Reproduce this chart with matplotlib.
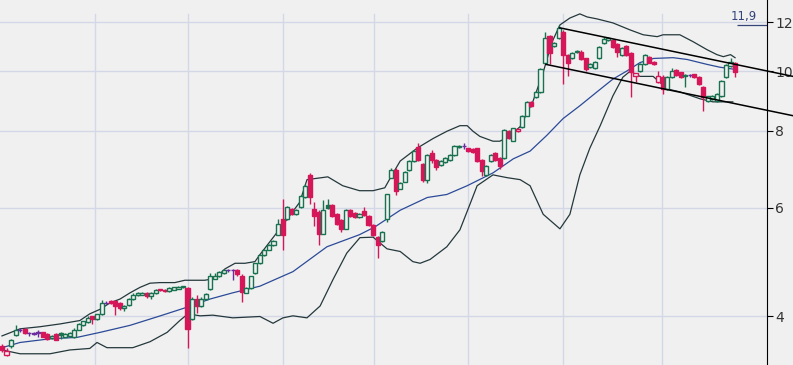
import matplotlib
matplotlib.use("Agg")
import matplotlib.pyplot as plt

# daily candles (price units)
opens = [3.58, 3.47, 3.58, 3.73, 3.81, 3.82, 3.76, 3.75, 3.77, 3.77,
         3.75, 3.69, 3.75, 3.76, 3.71, 3.72, 3.70, 3.81, 3.87, 3.92,
         4.00, 3.96, 4.03, 4.21, 4.24, 4.24, 4.21, 4.13, 4.18, 4.27,
         4.33, 4.34, 4.37, 4.32, 4.36, 4.43, 4.42, 4.40, 4.42, 4.44,
         4.46, 4.45, 3.96, 4.27, 4.16, 4.27, 4.43, 4.61, 4.65, 4.70,
         4.76, 4.76, 4.76, 4.66, 4.37, 4.45, 4.70, 4.88, 5.03, 5.13,
         5.22, 5.43, 5.75, 5.75, 5.97, 5.86, 6.02, 6.24, 6.79, 5.97,
         5.91, 5.45, 6.06, 6.06, 5.86, 5.73, 5.55, 5.95, 5.88, 5.80,
         5.93, 5.82, 5.63, 5.39, 5.31, 5.75, 6.72, 6.92, 6.45, 6.62,
         6.92, 7.15, 7.53, 7.07, 6.67, 7.37, 7.18, 7.05, 7.12, 7.18,
         7.31, 7.53, 7.56, 7.50, 7.47, 7.50, 7.18, 6.79, 7.15, 7.37,
         7.23, 7.23, 7.99, 7.72, 7.99, 8.13, 8.47, 8.92, 9.09, 9.26,
         10.33, 11.42, 11.00, 11.34, 11.59, 10.64, 10.49, 10.76, 10.76, 10.49,
         10.15, 10.11, 10.49, 11.13, 11.25, 11.25, 11.08, 10.64, 11.00, 10.72,
         9.81, 10.00, 10.26, 10.56, 10.37, 9.60, 9.78, 9.36, 9.78, 10.03,
         9.96, 9.83, 9.85, 9.88, 9.78, 9.43, 8.95, 9.02, 8.95, 9.12,
         9.78, 10.18, 10.33]
highs = [3.61, 3.56, 3.68, 3.88, 3.83, 3.83, 3.78, 3.77, 3.80, 3.78,
         3.76, 3.73, 3.76, 3.77, 3.76, 3.77, 3.83, 3.90, 3.94, 4.00,
         4.01, 4.04, 4.25, 4.24, 4.25, 4.25, 4.22, 4.17, 4.28, 4.36,
         4.38, 4.38, 4.38, 4.38, 4.43, 4.44, 4.43, 4.46, 4.47, 4.48,
         4.49, 4.47, 4.30, 4.33, 4.30, 4.37, 4.71, 4.70, 4.74, 4.77,
         4.78, 4.78, 4.77, 4.68, 4.46, 4.66, 4.89, 5.04, 5.14, 5.24,
         5.32, 5.76, 6.20, 6.04, 5.99, 5.97, 6.30, 6.55, 6.84, 6.13,
         5.95, 6.17, 6.20, 6.08, 5.88, 5.75, 5.97, 5.97, 5.90, 5.88,
         6.02, 5.84, 5.65, 5.41, 5.51, 6.33, 6.97, 6.97, 6.62, 6.89,
         7.18, 7.45, 7.64, 7.10, 7.34, 7.45, 7.20, 7.18, 7.25, 7.34,
         7.60, 7.60, 7.64, 7.52, 7.50, 7.52, 7.20, 7.05, 7.34, 7.40,
         7.25, 8.05, 8.02, 8.10, 8.08, 8.50, 8.95, 8.95, 9.30, 10.11,
         11.59, 11.46, 11.17, 11.89, 11.65, 10.66, 10.76, 10.84, 10.84, 10.52,
         10.30, 10.40, 11.00, 11.38, 11.38, 11.30, 11.10, 10.96, 11.04, 10.76,
         9.94, 10.30, 10.68, 10.60, 10.40, 10.00, 9.85, 9.81, 10.11, 10.07,
         9.99, 9.90, 9.90, 9.90, 9.81, 9.46, 9.12, 9.15, 9.22, 9.67,
         10.26, 10.52, 10.37]
lows = [3.50, 3.45, 3.56, 3.72, 3.78, 3.74, 3.72, 3.73, 3.70, 3.70,
        3.67, 3.68, 3.66, 3.68, 3.70, 3.71, 3.69, 3.80, 3.86, 3.91,
        3.89, 3.95, 4.02, 4.19, 4.19, 4.02, 4.10, 4.08, 4.16, 4.26,
        4.32, 4.33, 4.28, 4.27, 4.35, 4.40, 4.39, 4.39, 4.41, 4.43,
        4.45, 3.56, 3.95, 4.06, 4.15, 4.26, 4.42, 4.60, 4.64, 4.69,
        4.73, 4.58, 4.66, 4.22, 4.36, 4.44, 4.69, 4.87, 5.02, 5.12,
        5.21, 5.42, 5.13, 5.73, 5.84, 5.85, 6.00, 6.22, 6.08, 5.60,
        5.23, 5.44, 5.97, 5.80, 5.63, 5.49, 5.54, 5.80, 5.79, 5.79,
        5.82, 5.61, 5.41, 4.98, 5.29, 5.69, 6.70, 6.29, 6.43, 6.60,
        6.90, 7.13, 7.15, 6.62, 6.59, 7.10, 6.92, 7.02, 7.10, 7.15,
        7.28, 7.50, 7.48, 7.40, 7.38, 7.12, 6.77, 6.77, 7.12, 7.15,
        6.95, 7.20, 7.75, 7.70, 7.97, 8.10, 8.45, 8.76, 9.05, 9.22,
        10.30, 10.26, 10.96, 11.30, 9.53, 9.81, 10.45, 10.72, 10.42, 10.00,
        10.11, 10.07, 10.45, 11.08, 11.20, 10.92, 10.56, 10.60, 10.60, 9.09,
        9.60, 9.96, 10.22, 10.30, 10.22, 9.57, 9.19, 9.33, 9.74, 9.81,
        9.74, 9.43, 9.80, 9.74, 9.50, 8.63, 8.92, 8.99, 8.92, 9.09,
        9.74, 10.15, 9.78]
closes = [3.53, 3.51, 3.66, 3.80, 3.80, 3.76, 3.76, 3.76, 3.76, 3.71,
          3.68, 3.72, 3.67, 3.73, 3.75, 3.76, 3.81, 3.89, 3.93, 3.98,
          3.97, 4.03, 4.21, 4.21, 4.20, 4.16, 4.13, 4.16, 4.27, 4.33,
          4.36, 4.37, 4.32, 4.37, 4.42, 4.41, 4.40, 4.45, 4.46, 4.47,
          4.48, 3.82, 4.27, 4.16, 4.27, 4.35, 4.65, 4.66, 4.73, 4.75,
          4.75, 4.75, 4.68, 4.38, 4.45, 4.65, 4.88, 5.03, 5.13, 5.23,
          5.31, 5.65, 5.43, 6.02, 5.86, 5.95, 6.28, 6.52, 6.24, 5.82,
          5.45, 5.95, 5.99, 5.82, 5.65, 5.55, 5.95, 5.82, 5.81, 5.86,
          5.84, 5.63, 5.43, 5.23, 5.49, 6.31, 6.92, 6.40, 6.59, 6.87,
          7.15, 7.42, 7.18, 6.67, 7.31, 7.18, 7.00, 7.15, 7.23, 7.31,
          7.56, 7.57, 7.57, 7.42, 7.40, 7.15, 6.89, 7.02, 7.31, 7.18,
          7.02, 8.02, 7.78, 8.08, 8.05, 8.47, 8.92, 8.79, 9.26, 10.07,
          11.34, 10.72, 11.13, 11.76, 10.64, 10.33, 10.72, 10.80, 10.45, 10.07,
          10.26, 10.37, 10.96, 11.30, 11.34, 10.96, 10.76, 10.92, 10.64, 9.96,
          9.92, 10.26, 10.64, 10.33, 10.26, 9.81, 9.36, 9.78, 10.00, 9.85,
          9.78, 9.86, 9.86, 9.78, 9.53, 9.09, 9.10, 9.12, 9.19, 9.64,
          10.22, 10.37, 9.96]

# bollinger bands, sampled by eye (candle index, price)
mid_idx = [0, 4, 10.6, 16.6, 21.7, 28.3, 35, 40.4, 46, 51, 57, 64.3, 71.8, 79,
           82.4, 88, 94, 98.3, 102.8, 108.5, 113, 116.7, 120.4, 124, 127.7,
           131.5, 135, 138, 141, 144, 148.3, 151.4, 155.8, 158.7, 162]
mid_val = [3.56, 3.63, 3.68, 3.70, 3.77, 3.87, 4.01, 4.13, 4.27, 4.37, 4.48,
           4.73, 5.19, 5.43, 5.59, 5.95, 6.24, 6.31, 6.52, 6.84, 7.21, 7.42,
           7.87, 8.38, 8.79, 9.26, 9.71, 10.00, 10.33, 10.49, 10.52, 10.45,
           10.26, 10.15, 10.07]
up_idx = [0, 4, 8.4, 12.8, 17.2, 19.4, 21.7, 23.9, 26.1, 28.3, 30.5, 32.7,
          34.9, 38.2, 40.4, 44.8, 47.1, 49.3, 51.5, 53.7, 55.9, 57, 61.4,
          65.8, 67.4, 72, 75.3, 79, 82, 84.6, 86.2, 88, 91.7, 95.3, 98.3,
          101.2, 102.8, 104.1, 105.6, 108.5, 110, 111.8, 114.5, 117.3, 119.6,
          121.5, 123.3, 125.5, 127.7, 129.3, 131.5, 135, 138.8, 141.7, 144.8,
          146.1, 149.8, 152.7, 155.8, 158, 159.4, 161, 162]
up_val = [3.72, 3.82, 3.85, 3.89, 3.94, 4.04, 4.11, 4.21, 4.27, 4.37, 4.46,
          4.53, 4.54, 4.54, 4.58, 4.58, 4.61, 4.78, 4.88, 4.88, 4.91, 5.04,
          5.55, 6.13, 6.67, 6.74, 6.52, 6.40, 6.40, 6.47, 6.79, 7.15, 7.50,
          7.78, 7.99, 8.16, 8.16, 7.99, 7.84, 7.70, 7.70, 7.81, 8.13, 8.92,
          9.96, 11.13, 11.89, 12.20, 12.39, 12.25, 12.16, 11.98, 11.67, 11.46,
          11.38, 11.46, 11.46, 11.17, 10.84, 10.64, 10.56, 10.64, 10.52]
low_idx = [0, 4, 10.6, 15, 19.4, 21, 23.2, 28.9, 32.7, 36.5, 39.3, 41.1,
           43.8, 46.6, 51, 57, 59.9, 62.1, 64.3, 67.4, 70.3, 73.2, 76.2, 79.1,
           82, 85.1, 88, 90.8, 92.4, 94.6, 98.3, 101.2, 103.4, 105, 108.5,
           111.6, 114.5, 116.7, 119.6, 123.3, 125.5, 127.7, 129.9, 132.2, 135,
           137.2, 138.8, 141, 143.9, 147, 149.8, 154.3, 157.1, 161.5]
low_val = [3.53, 3.48, 3.48, 3.53, 3.55, 3.63, 3.56, 3.56, 3.64, 3.77, 3.94,
           4.04, 4.01, 4.02, 3.98, 4.00, 3.90, 3.98, 4.01, 3.98, 4.16, 4.60,
           5.07, 5.37, 5.38, 5.15, 5.10, 4.91, 4.88, 4.95, 5.19, 5.53, 6.08,
           6.52, 6.79, 6.72, 6.67, 6.52, 5.86, 5.55, 5.86, 6.79, 7.50, 8.16,
           9.12, 9.78, 10.00, 9.81, 9.81, 9.36, 9.26, 9.02, 8.92, 8.92]

month_lines = [20.55, 41.1, 62.1, 82.2, 103.0, 124.0, 145.9]
chan_top_x, chan_top_y = [123.3, 174.8], [11.76, 9.81]
chan_bot_x, chan_bot_y = [120.2, 174.8], [10.26, 8.47]
price_ticks = [4, 6, 8, 10, 12]
marker_price = 11.9
marker_start = 162.4

BG = "#f0f0f0"
GRID = "#d4d7e6"
GREEN = "#187250"
RED = "#d5175a"
PURPLE = "#6a2ca0"

fig = plt.figure(figsize=(7.93, 3.65), dpi=100, facecolor=BG)
ax = fig.add_axes([0, 0, 767 / 793, 1])
ax.set_facecolor(BG)
ax.set_yscale("log")
ax.set_xlim(-0.44, 169.06)
ax.set_ylim(3.337, 13.05)

for p in price_ticks:
    ax.axhline(p, color=GRID, lw=1, zorder=0)
for m in month_lines:
    ax.axvline(m, ymax=1 - 14 / 365, color=GRID, lw=1, zorder=0)

# bands
ax.plot(up_idx, up_val, color="#24383c", lw=0.9, zorder=1)
ax.plot(low_idx, low_val, color="#24383c", lw=0.9, zorder=1)
ax.plot(mid_idx, mid_val, color="#2b4a98", lw=0.9, zorder=1)

# candles
for i in range(len(closes)):
    o, h, l, c = opens[i], highs[i], lows[i], closes[i]
    prev = closes[i - 1] if i else o
    if c == prev:
        col = PURPLE
    elif c > prev:
        col = GREEN
    else:
        col = RED
    hollow = c > o
    ax.vlines(i, l, h, color=col, lw=1, zorder=2)
    lo, hi = min(o, c), max(o, c)
    ax.bar(i, hi - lo, bottom=lo, width=0.9,
           facecolor=BG if hollow else col, edgecolor=col, lw=1.0, zorder=3)

# trend channel, runs past the axis edge
ax.plot(chan_top_x, chan_top_y, color="black", lw=1.1, zorder=4, clip_on=False)
ax.plot(chan_bot_x, chan_bot_y, color="black", lw=1.1, zorder=4, clip_on=False)

# last price marker
ax.hlines(marker_price, marker_start, 169.06, color="#34437a", lw=0.9, zorder=4)
ax.annotate("11,9", (169.06, marker_price), xytext=(-7, 1.5), textcoords="offset points",
            ha="right", va="bottom", fontsize=8.5, color="#34437a")

for s in ["top", "left", "bottom"]:
    ax.spines[s].set_visible(False)
ax.spines["right"].set_color("black")
ax.yaxis.tick_right()
ax.set_yticks(price_ticks)
ax.set_yticklabels([str(p) for p in price_ticks])
ax.minorticks_off()
ax.tick_params(axis="y", length=4, width=0.8, pad=2, labelsize=10, labelcolor="#333333")
ax.set_xticks([])

fig.savefig("out.png", dpi=100, facecolor=BG)
